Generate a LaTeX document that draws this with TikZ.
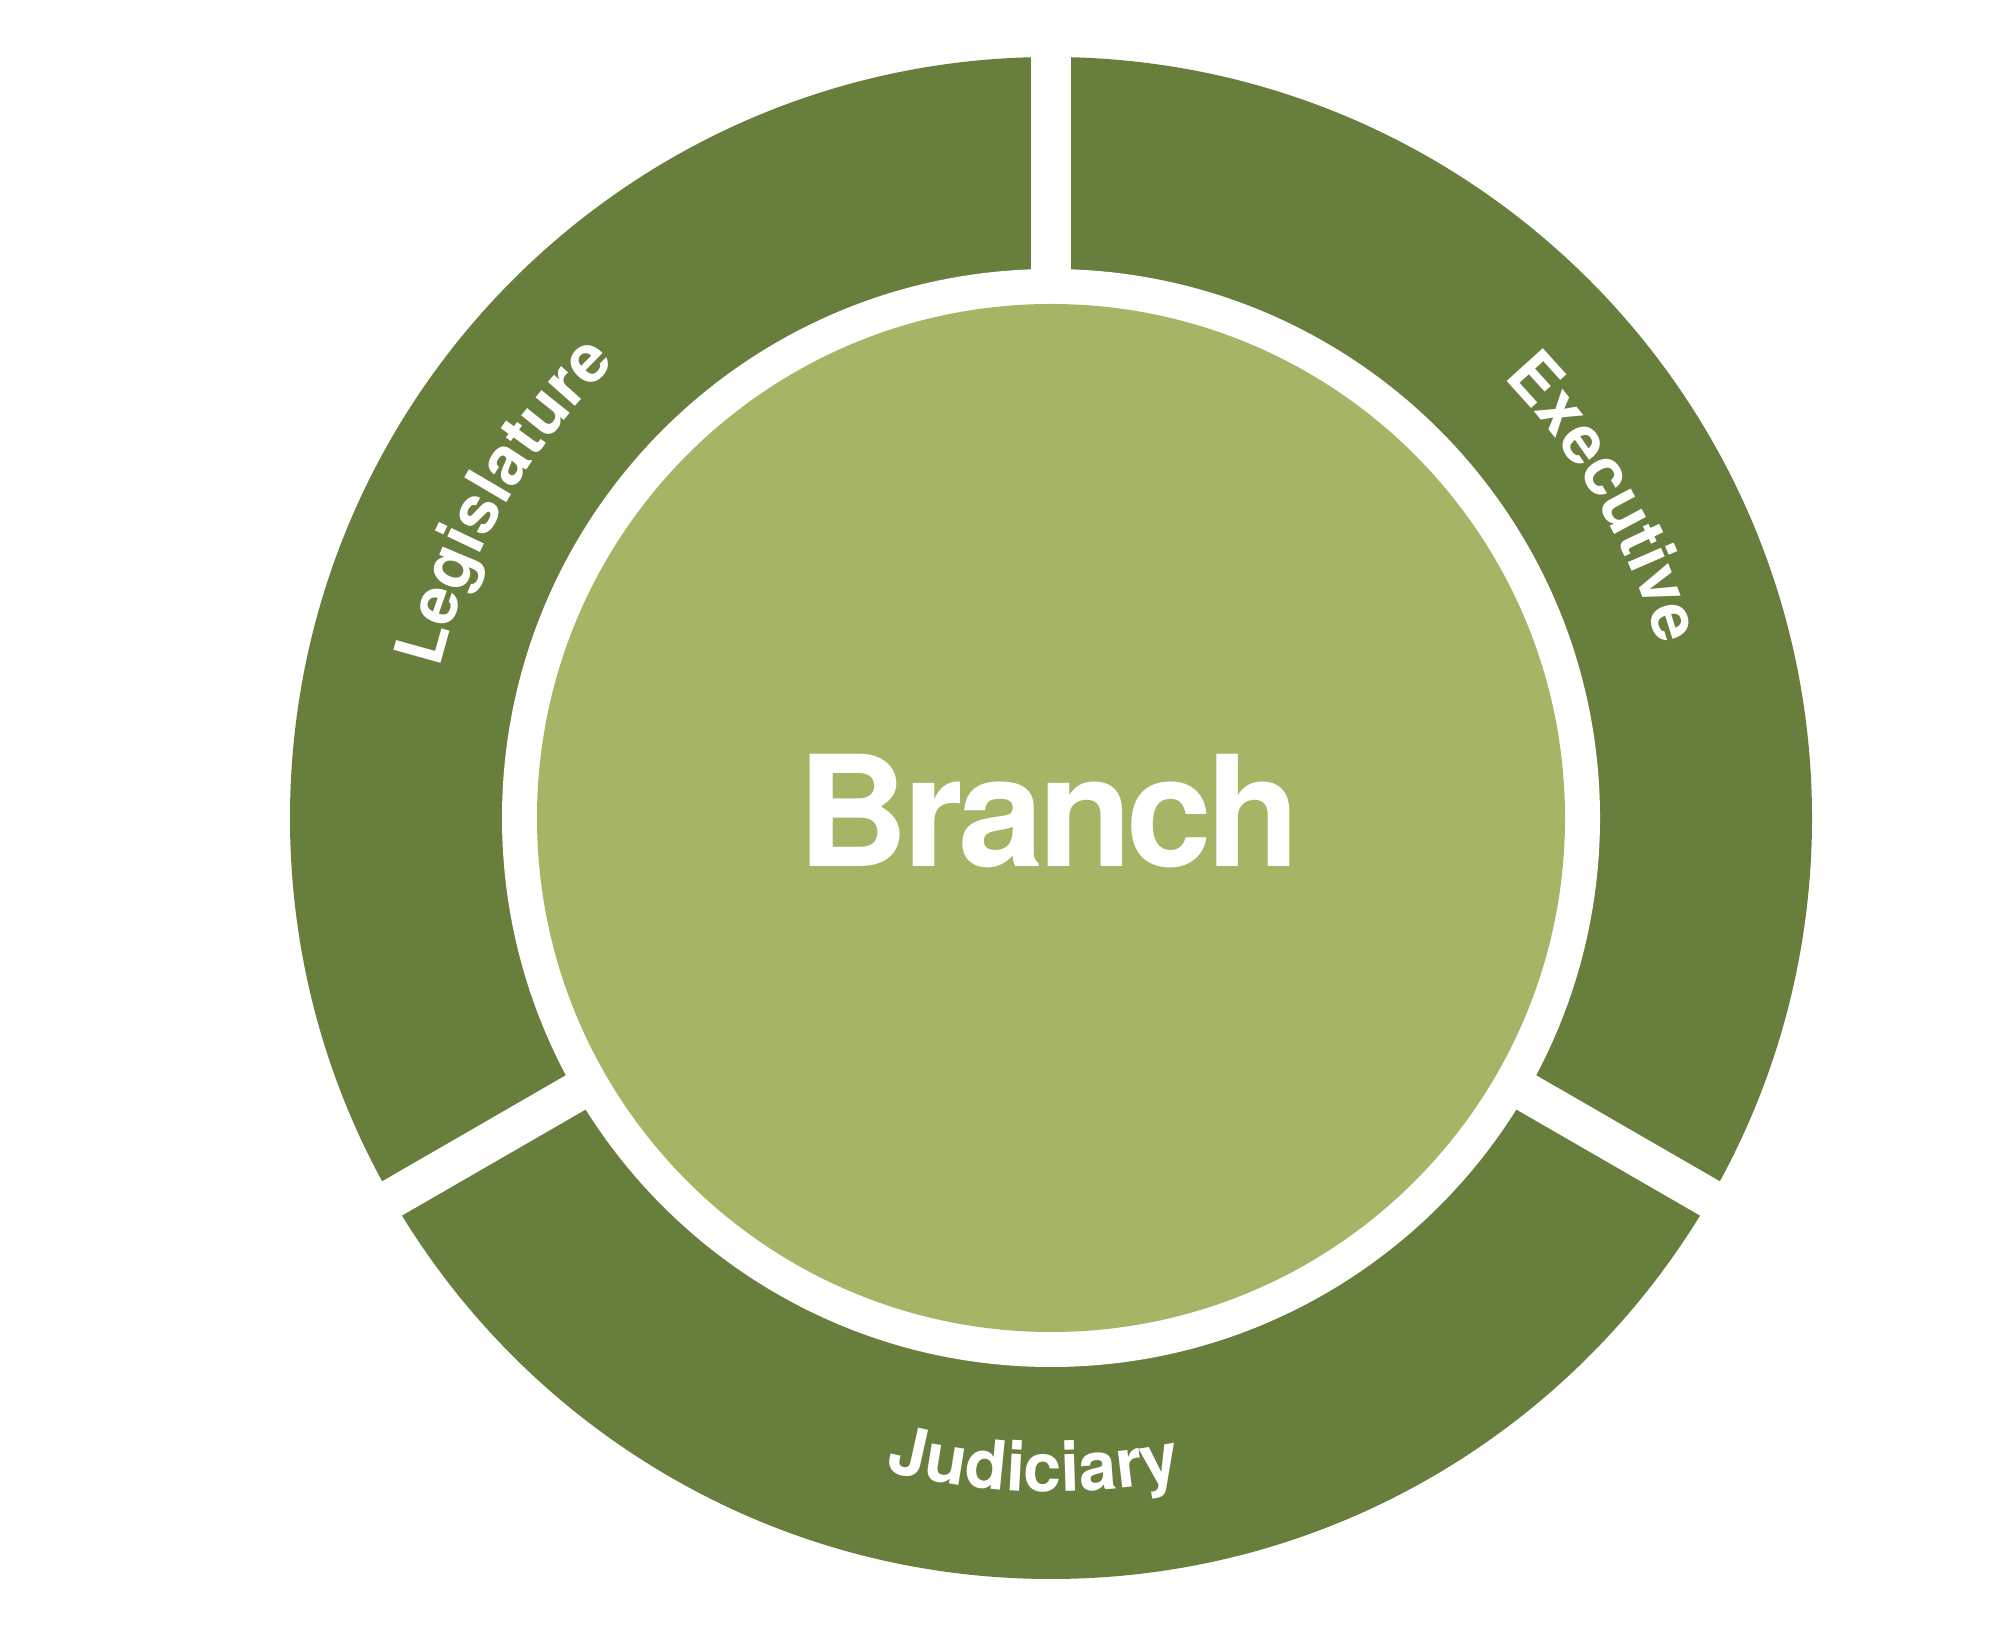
\documentclass[tikz,border=0pt]{standalone}
\usepackage{fontspec}
\newfontfamily\hv{TeX Gyre Heros}
\newfontfamily\hvtight{TeX Gyre Heros}[LetterSpace=-3.6]
\usetikzlibrary{decorations.text,calc}
\definecolor{ringgreen}{HTML}{677E3C}
\definecolor{coregreen}{HTML}{A4B665}
\tikzset{
  ringlabel/.style={decorate, decoration={text along path, text align=center, text color=white}},
  gapbar/.style={draw=white, line width=39.5pt, line cap=butt},
}
\newcommand{\lblfont}{\hv\bfseries\fontsize{67}{70}\selectfont}
\newcommand{\judfont}{\hv\bfseries\fontsize{68}{70}\selectfont}
\begin{document}
\begin{tikzpicture}[x=1pt,y=1pt]
\useasboundingbox (0,0) rectangle (2004,1632);
\fill[white] (0,0) rectangle (2004,1632);
\coordinate (c) at (1051,814);
% outer ring
\fill[ringgreen] (c) circle[radius=761];
\fill[white] (c) circle[radius=549];
% gaps between the three branches
\coordinate (gtop) at ($(c)+(90:800)$);
\coordinate (gleft) at ($(c)+(210:800)$);
\coordinate (gright) at ($(c)+(330:800)$);
\draw[gapbar] (c) -- (gtop);
\draw[gapbar] (c) -- (gleft);
\draw[gapbar] (c) -- (gright);
% core
\fill[coregreen] (c) circle[radius=514];
\node[inner sep=0pt, anchor=base, text=white, font={\hvtight\bfseries\fontsize{154}{154}\selectfont}] (branch) at (1049,765) {Branch};
% ring labels
\path[ringlabel, decoration={text={|\lblfont|Legislature}}] ($(c)+(180:629)$) arc[start angle=180, end angle=120, radius=629];
\path[ringlabel, decoration={text={|\lblfont|Executive}}] ($(c)+(60:631)$) arc[start angle=60, end angle=0, radius=631];
\path[ringlabel, decoration={text={|\judfont|Judiciary}}] ($(c)+(238.5:674)$) arc[start angle=238.5, end angle=298.5, radius=674];
\end{tikzpicture}
\end{document}
